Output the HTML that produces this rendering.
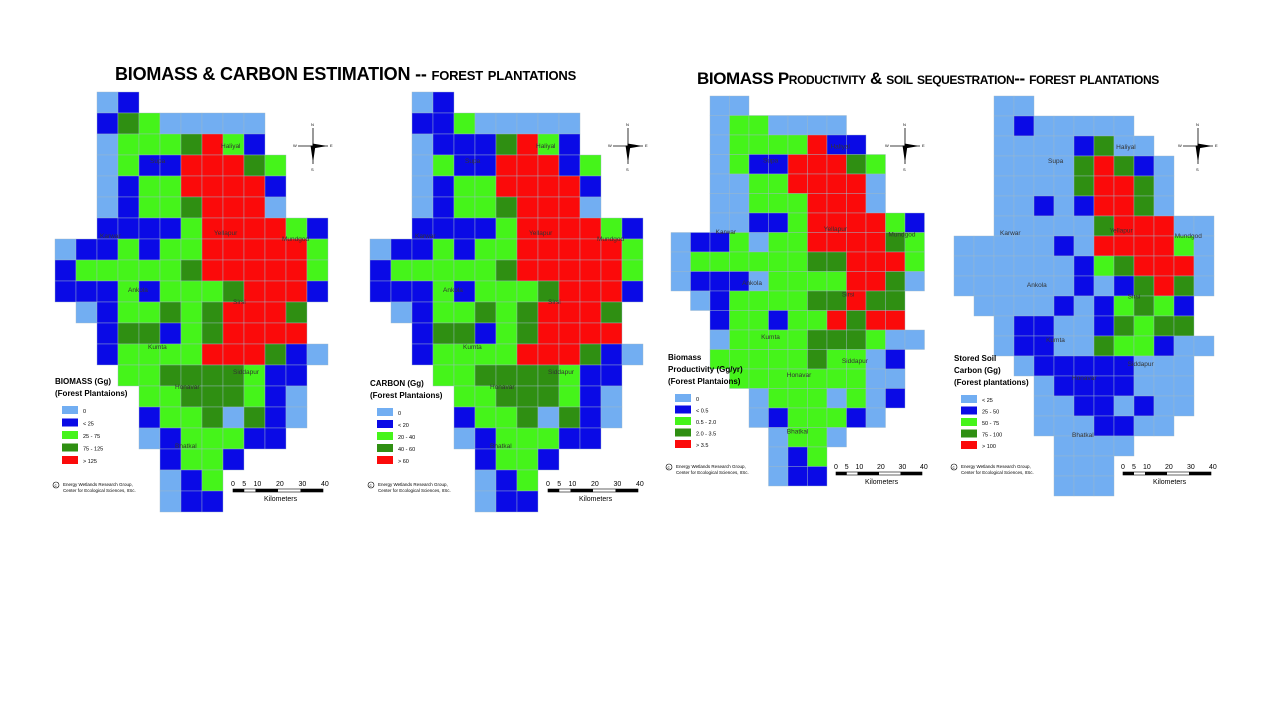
<!DOCTYPE html>
<html><head><meta charset="utf-8"><style>
body{margin:0;background:#fff;width:1280px;height:720px;overflow:hidden;font-family:"Liberation Sans",sans-serif}
.t{position:absolute;font-weight:bold;font-size:18px;color:#000;white-space:nowrap;font-variant:small-caps;letter-spacing:-0.2px}
</style></head><body>
<div class="t" style="left:115px;top:64px">BIOMASS &amp; CARBON ESTIMATION -- forest plantations</div>
<div class="t" style="left:697px;top:69px;font-size:17px;letter-spacing:-0.4px">BIOMASS Productivity &amp; soil sequestration-- forest plantations</div>
<svg id="s" width="1280" height="720" style="position:absolute;left:0;top:0;font-family:'Liberation Sans',sans-serif"></svg>
<script>
var C={L:'#72aef2',B:'#0a0ae6',G:'#45f41a',D:'#2f8f12',R:'#fb0a0a'};
var m1=["..LB.........","..BDGLLLLL...","..LGGGDRGB...","..LGBBRRRDG..","..LBGGRRRRB..","..LBGGDRRRL..","..BBBBGRRRRGB","LBBGBGGRRRRRG","BGGGGGDRRRRRG","BBBGBGGGDRRRB",".LBGGDGDRRRD.","..BDDBGDRRRR.","..BGGGGRRRDBL","...GGDDDDGBB.","....GGDDDGBL.","....BGGDLDBL.","....LBGGGBB..",".....BGGB....",".....LBG.....",".....LBB....."];
var m2=["..LB.........","..BBGLLLLL...","..LBBBDRGB...","..LGBBRRRBG..","..LBGGRRRRB..","..LBGGDRRRL..","..BBBBGRRRRGB","LBBGBGGRRRRRG","BGGGGGDRRRRRG","BBBGBGGGDRRRB",".LBGGDGDRRRD.","..BDDBGDRRRR.","..BGGGGRRRDBL","...GGDDDDGBB.","....GGDDDGBL.","....BGGDLDBL.","....LBGGGBB..",".....BGGB....",".....LBG.....",".....LBB....."];
var m3=["..LL.........","..LGGLLLL....","..LGGGGRBB...","..LGBBRRRDG..","..LLGGRRRRL..","..LLGGGRRRL..","..LLBBGRRRRGB","LBBGLGGRRRRDG","LGGGGGGDDRRRG","LBBBLGGGGRRDL",".LBGGGGDDRDD.","..BGGBGGRDRR.","..LGGGGDDDGLL","..GGGGGDGGLB.","...GGGGGGGLL.","....LGGGLGLB.","....LBGGGBL..",".....LGGL....",".....LBG.....",".....LBB....."];
var m4=["..LL.........","..LBLLLLL....","..LLLLBDLL...","..LLLLDRDBL..","..LLLLDRRDL..","..LLBLBRRDL..","..LLLLLDRRRLL","LLLLLBLRRRRGL","LLLLLLBGDRRRL","LLLLLLBLBDRDL",".LLLLBLBGDGB.","..LBBLLBDGDD.","..LBBLLDGGBLL","...LBBBBBLLL.","....LBBBBLLL.","....LLBBLBLL.","....LLLBBLL..",".....LLLL....",".....LLL.....",".....LLL....."];
var h='';
function grid(m,x0,y0,c){m.forEach(function(r,i){for(var j=0;j<r.length;j++){var k=r[j];if(k!='.')h+='<rect x="'+(x0+j*c)+'" y="'+(y0+i*c)+'" width="'+c+'" height="'+c+'" fill="'+C[k]+'" stroke="#9fb8c8" stroke-width="0.4"/>';}});}
grid(m1,55,92,21);grid(m2,370,92,21);grid(m3,671,96,19.5);grid(m4,954,96,20);
function lab(x,y,t){h+='<text x="'+x+'" y="'+y+'" font-size="6.5" fill="#333">'+t+'</text>';}
function labels(dx,dy,s){var L=[["Supa",100,70],["Haliyal",171,55],["Karwar",50,145],["Yellapur",164,142],["Mundgod",232,148],["Ankola",78,199],["Sirsi",183,211],["Kumta",98,256],["Siddapur",183,281],["Honavar",125,296],["Bhatkal",125,355]];L.forEach(function(a){lab(dx+a[1]*s,dy+a[2]*s,a[0]);});}
labels(50,93,1);labels(365,93,1);labels(668,96,0.95);labels(952,96,0.96);
function compass(x,y){h+='<g stroke="#000" stroke-width="0.8" fill="#000"><line x1="'+x+'" y1="'+(y-18)+'" x2="'+x+'" y2="'+(y+18)+'"/><line x1="'+(x-15)+'" y1="'+y+'" x2="'+(x+15)+'" y2="'+y+'"/><polygon points="'+(x-2)+','+y+' '+x+','+(y+14)+' '+(x+2)+','+y+'"/><polygon points="'+x+','+(y-2)+' '+(x+12)+','+y+' '+x+','+(y+2)+'"/></g><text x="'+(x-2)+'" y="'+(y-20)+'" font-size="4">N</text><text x="'+(x-2)+'" y="'+(y+25)+'" font-size="4">S</text><text x="'+(x-20)+'" y="'+(y+1)+'" font-size="4">W</text><text x="'+(x+17)+'" y="'+(y+1)+'" font-size="4">E</text>';}
compass(313,146);compass(628,146);compass(905,146);compass(1198,146);
function legend(x,y,titles,items,sp){titles.forEach(function(t,i){h+='<text x="'+x+'" y="'+(y+i*12)+'" font-size="8" font-weight="bold">'+t+'</text>';});var yy=y+titles.length*12-2;items.forEach(function(t,i){var k="LBGDR"[i];h+='<rect x="'+(x+7)+'" y="'+(yy+i*sp)+'" width="16" height="8" fill="'+C[k]+'"/><text x="'+(x+28)+'" y="'+(yy+i*sp+7)+'" font-size="5.5">'+t+'</text>';});}
legend(55,384,["BIOMASS (Gg)","(Forest Plantaions)"],["0","&lt; 25","25 - 75","75 - 125","&gt; 125"],12.5);
legend(370,386,["CARBON (Gg)","(Forest Plantaions)"],["0","&lt; 20","20 - 40","40 - 60","&gt; 60"],12);
legend(668,360,["Biomass","Productivity (Gg/yr)","(Forest Plantaions)"],["0","&lt; 0.5","0.5 - 2.0","2.0 - 3.5","&gt; 3.5"],11.5);
legend(954,361,["Stored Soil","Carbon (Gg)","(Forest plantations)"],["&lt; 25","25 - 50","50 - 75","75 - 100","&gt; 100"],11.5);
function copy(x,y){h+='<circle cx="'+(x+3)+'" cy="'+(y-2)+'" r="3" fill="none" stroke="#000" stroke-width="0.6"/><text x="'+(x+1.5)+'" y="'+(y)+'" font-size="4.5">c</text><text x="'+(x+10)+'" y="'+(y-1)+'" font-size="4.5">Energy Wetlands Research Group,</text><text x="'+(x+10)+'" y="'+(y+5)+'" font-size="4.5">Center for Ecological Sciences, IISc.</text>';}
copy(53,487);copy(368,487);copy(666,469);copy(951,469);
function scale(x,y,w){var n=["0","5","10","20","30","40"],f=[0,.125,.25,.5,.75,1];f.forEach(function(p,i){h+='<text x="'+(x+p*w-2)+'" y="'+y+'" font-size="7">'+n[i]+'</text>';});h+='<rect x="'+x+'" y="'+(y+3)+'" width="'+w+'" height="3" fill="#fff" stroke="#000" stroke-width="0.6"/>';[[0,.125],[.25,.5],[.75,1]].forEach(function(a){h+='<rect x="'+(x+a[0]*w)+'" y="'+(y+3)+'" width="'+((a[1]-a[0])*w)+'" height="3" fill="#000"/>';});h+='<text x="'+(x+w/2-14)+'" y="'+(y+15)+'" font-size="7">Kilometers</text>';}
scale(233,486,90);scale(548,486,90);scale(836,469,86);scale(1123,469,88);
document.getElementById('s').innerHTML=h;
</script>
</body></html>
